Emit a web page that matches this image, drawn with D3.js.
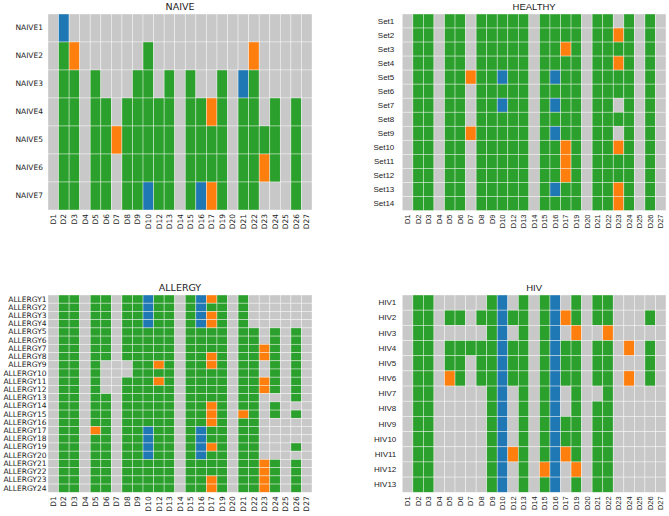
<!DOCTYPE html>
<html><head><meta charset="utf-8">
<script src="https://cdn.jsdelivr.net/npm/d3@7"></script>
<style>body{margin:0;background:#fff;} svg{display:block;}</style>
</head><body>
<svg id="chart" width="669" height="516"></svg>
<script>
// Column (tick) labels shared by all panels
const columns = ["D1","D2","D3","D4","D5","D6","D7","D8","D9","D10","D12","D13","D14","D15","D16","D17","D19","D20","D21","D22","D23","D24","D25","D26","D27"];
// codes: 0 = absent (gray), 1 = green, 2 = orange, 3 = blue
const naiveRows = ["NAIVE1","NAIVE2","NAIVE3","NAIVE4","NAIVE5","NAIVE6","NAIVE7"];
const naiveValues = [
  [0,3,0,0,0,0,0,0,0,0,0,0,0,0,0,0,0,0,0,0,0,0,0,0,0],
  [0,1,2,0,0,0,0,0,0,1,0,0,0,0,0,0,0,0,0,2,0,0,0,0,0],
  [0,1,1,0,1,0,0,0,1,1,0,1,0,1,0,0,1,0,3,1,0,0,0,0,0],
  [0,1,1,0,1,1,0,1,1,1,1,1,0,1,1,2,1,0,1,1,0,1,0,1,0],
  [0,1,1,0,1,1,2,1,1,1,1,1,0,1,1,1,1,0,1,1,1,1,0,1,0],
  [0,1,1,0,1,1,0,1,1,1,1,1,0,1,1,1,1,0,1,1,2,1,0,1,0],
  [0,1,1,0,1,1,0,1,1,3,1,1,0,1,3,2,1,0,1,1,0,0,0,1,0]
];
const healthyRows = ["Set1","Set2","Set3","Set4","Set5","Set6","Set7","Set8","Set9","Set10","Set11","Set12","Set13","Set14"];
const healthyValues = [
  [0,1,1,0,1,1,0,1,1,1,1,1,0,1,1,1,1,0,1,1,0,1,0,1,0],
  [0,1,1,0,1,1,0,1,1,1,1,1,0,1,1,1,1,0,1,1,2,1,0,1,0],
  [0,1,1,0,1,1,0,1,1,1,1,1,0,1,1,2,1,0,1,1,1,1,0,1,0],
  [0,1,1,0,1,1,0,1,1,1,1,1,0,1,1,1,1,0,1,1,2,1,0,1,0],
  [0,1,1,0,1,1,2,1,1,3,1,1,0,1,3,1,1,0,1,1,1,1,0,1,0],
  [0,1,1,0,1,1,0,1,1,1,1,1,0,1,1,1,1,0,1,1,1,1,0,1,0],
  [0,1,1,0,1,1,0,1,1,3,1,1,0,1,3,1,1,0,1,1,0,1,0,1,0],
  [0,1,1,0,1,1,0,1,1,1,1,1,0,1,1,1,1,0,1,1,1,1,0,1,0],
  [0,1,1,0,1,1,2,1,1,1,1,1,0,1,3,1,1,0,1,1,0,1,0,1,0],
  [0,1,1,0,1,1,0,1,1,1,1,1,0,1,1,2,1,0,1,1,2,1,0,1,0],
  [0,1,1,0,1,1,0,1,1,1,1,1,0,1,1,2,1,0,1,1,1,1,0,1,0],
  [0,1,1,0,1,1,0,1,1,1,1,1,0,1,1,2,1,0,1,1,1,1,0,1,0],
  [0,1,1,0,1,1,0,1,1,1,1,1,0,1,3,1,1,0,1,1,2,1,0,1,0],
  [0,1,1,0,1,1,0,1,1,1,1,1,0,1,1,1,1,0,1,1,2,1,0,1,0]
];
const allergyRows = ["ALLERGY1","ALLERGY2","ALLERGY3","ALLERGY4","ALLERGY5","ALLERGY6","ALLERGY7","ALLERGY8","ALLERGY9","ALLERGY10","ALLERGY11","ALLERGY12","ALLERGY13","ALLERGY14","ALLERGY15","ALLERGY16","ALLERGY17","ALLERGY18","ALLERGY19","ALLERGY20","ALLERGY21","ALLERGY22","ALLERGY23","ALLERGY24"];
const allergyValues = [
  [0,1,1,0,1,1,0,1,1,3,1,1,0,1,3,2,1,0,1,0,0,0,0,0,0],
  [0,1,1,0,1,1,0,1,1,3,1,1,0,1,3,1,1,0,1,0,0,0,0,0,0],
  [0,1,1,0,1,1,0,1,1,3,1,1,0,1,3,2,1,0,1,0,0,0,0,0,0],
  [0,1,1,0,1,1,0,1,1,3,1,1,0,1,3,2,1,0,1,0,0,0,0,0,0],
  [0,1,1,0,1,1,0,1,1,1,1,1,0,1,1,1,1,0,1,1,0,1,0,1,0],
  [0,1,1,0,1,1,0,1,1,1,1,1,0,1,1,1,1,0,1,1,0,1,0,1,0],
  [0,1,1,0,1,1,0,1,1,1,1,1,0,1,1,1,1,0,1,1,2,1,0,1,0],
  [0,1,1,0,1,1,0,1,1,1,1,1,0,1,1,2,1,0,1,1,2,1,0,1,0],
  [0,1,1,0,1,0,0,0,1,1,2,1,0,1,1,2,1,0,1,1,0,1,0,1,0],
  [0,1,1,0,1,0,0,0,1,1,1,1,0,1,1,1,1,0,1,1,0,1,0,1,0],
  [0,1,1,0,1,0,0,1,1,1,2,1,0,1,1,1,1,0,1,1,2,1,0,1,0],
  [0,1,1,0,1,0,0,1,1,1,1,1,0,1,1,1,1,0,1,1,2,1,0,1,0],
  [0,1,1,0,1,1,0,1,1,1,1,1,0,1,1,1,1,0,1,1,0,0,0,1,0],
  [0,1,1,0,1,1,0,1,1,1,1,1,0,1,1,2,1,0,1,1,0,1,0,0,0],
  [0,1,1,0,1,1,0,1,1,1,1,1,0,1,1,2,1,0,2,1,0,1,0,1,0],
  [0,1,1,0,1,1,0,1,1,1,1,1,0,1,1,2,1,0,1,1,0,0,0,0,0],
  [0,1,1,0,2,1,0,1,1,3,1,1,0,1,3,1,1,0,1,1,0,0,0,0,0],
  [0,1,1,0,1,1,0,1,1,3,1,1,0,1,3,1,1,0,1,1,0,0,0,0,0],
  [0,1,1,0,1,1,0,1,1,3,1,1,0,1,3,2,1,0,1,1,0,0,0,1,0],
  [0,1,1,0,1,1,0,1,1,3,1,1,0,1,3,1,1,0,1,1,0,0,0,0,0],
  [0,1,1,0,1,1,0,1,1,1,1,1,0,1,1,1,1,0,1,1,2,1,0,1,0],
  [0,1,1,0,1,1,0,1,1,1,1,1,0,1,1,1,1,0,1,1,2,1,0,1,0],
  [0,1,1,0,1,1,0,1,1,1,1,1,0,1,1,2,1,0,1,1,2,1,0,1,0],
  [0,1,1,0,1,1,0,1,1,1,1,1,0,1,1,2,1,0,1,1,2,1,0,1,0]
];
const hivRows = ["HIV1","HIV2","HIV3","HIV4","HIV5","HIV6","HIV7","HIV8","HIV9","HIV10","HIV11","HIV12","HIV13"];
const hivValues = [
  [0,1,1,0,0,0,0,0,1,3,0,1,0,1,3,0,1,0,1,1,0,0,0,0,0],
  [0,1,1,0,1,1,0,1,1,3,1,1,0,1,3,2,1,0,1,1,0,0,0,1,0],
  [0,1,1,0,0,0,0,0,1,3,0,1,0,1,3,0,2,0,0,2,0,0,0,0,0],
  [0,1,1,0,1,1,1,1,1,3,1,1,0,1,3,1,1,0,1,1,0,2,0,1,0],
  [0,1,1,0,1,1,0,1,1,3,1,1,0,1,3,1,1,0,1,1,0,0,0,1,0],
  [0,1,1,0,2,1,0,1,1,3,1,1,0,1,3,1,1,0,1,1,0,2,0,1,0],
  [0,1,1,0,0,0,0,0,1,3,0,1,0,1,3,0,1,0,0,1,0,0,0,0,0],
  [0,1,1,0,0,0,0,0,1,3,0,1,0,1,3,0,1,0,1,1,0,0,0,0,0],
  [0,1,1,0,0,0,0,0,1,3,0,1,0,1,3,1,1,0,1,1,0,0,0,0,0],
  [0,1,1,0,0,0,0,0,1,3,0,1,0,1,3,1,1,0,1,1,0,0,0,0,0],
  [0,1,1,0,0,0,0,0,1,3,2,1,0,1,3,2,1,0,1,1,0,0,0,0,0],
  [0,1,1,0,0,0,0,0,1,3,0,1,0,2,3,0,2,0,1,1,0,0,0,0,0],
  [0,1,1,0,0,0,0,0,1,3,0,1,0,1,3,0,1,0,1,1,0,0,0,0,0]
];
const codes = [0,1,2,3];
const palette = ["#c8c8c8","#2ca02c","#ff7f0e","#1f77b4"];

const color = d3.scaleOrdinal().domain(codes).range(palette);
const svg = d3.select("#chart");

const panels = [
  {title:"NAIVE",   rows:naiveRows,   values:naiveValues,   x0:48,    x1:312, y0:14,  y1:210,   font:"DejaVu Sans",     fs:7.5, labelGap:5},
  {title:"HEALTHY", rows:healthyRows, values:healthyValues, x0:402.3, x1:666, y0:14,  y1:210.5, font:"Liberation Sans", fs:8,   labelGap:8},
  {title:"ALLERGY", rows:allergyRows, values:allergyValues, x0:48,    x1:312, y0:295, y1:492.3, font:"DejaVu Sans",     fs:7.5, labelGap:1.5},
  {title:"HIV",     rows:hivRows,     values:hivValues,     x0:402.3, x1:666, y0:295, y1:492.3, font:"Liberation Sans", fs:8,   labelGap:6}
];

panels.forEach(p => {
  const x = d3.scaleBand().domain(columns).range([p.x0, p.x1]).padding(0);
  const y = d3.scaleBand().domain(p.rows).range([p.y0, p.y1]).padding(0);
  const g = svg.append("g");
  const cells = [];
  p.values.forEach((row, i) => row.forEach((v, j) => cells.push({r:p.rows[i], c:columns[j], v})));
  g.selectAll("rect").data(cells).join("rect")
    .attr("x", d => x(d.c)).attr("y", d => y(d.r))
    .attr("width", x.bandwidth()).attr("height", y.bandwidth())
    .attr("fill", d => color(d.v))
    .attr("stroke", "rgba(255,255,255,0.55)").attr("stroke-width", 0.7);

  // title
  g.append("text").attr("x", (p.x0 + p.x1)/2).attr("y", p.y0 - 4)
    .attr("text-anchor","middle").attr("font-family", p.font).attr("font-size", 9.5)
    .attr("fill","#222").text(p.title);

  // y axis
  const ya = g.append("g").attr("transform", `translate(${p.x0},0)`)
    .call(d3.axisLeft(y).tickSize(0).tickPadding(p.labelGap));
  ya.select(".domain").remove();
  ya.selectAll("text").attr("font-family", p.font).attr("font-size", p.fs).attr("fill","#222");

  // x axis
  const xa = g.append("g").attr("transform", `translate(0,${p.y1})`)
    .call(d3.axisBottom(x).tickSize(0));
  xa.select(".domain").remove();
  xa.selectAll("text")
    .attr("transform","rotate(-90)")
    .attr("text-anchor","end")
    .attr("x", -4).attr("y", 0).attr("dy","0.35em")
    .attr("font-family", p.font).attr("font-size", 7.5).attr("fill","#222");
});
</script>
</body></html>
